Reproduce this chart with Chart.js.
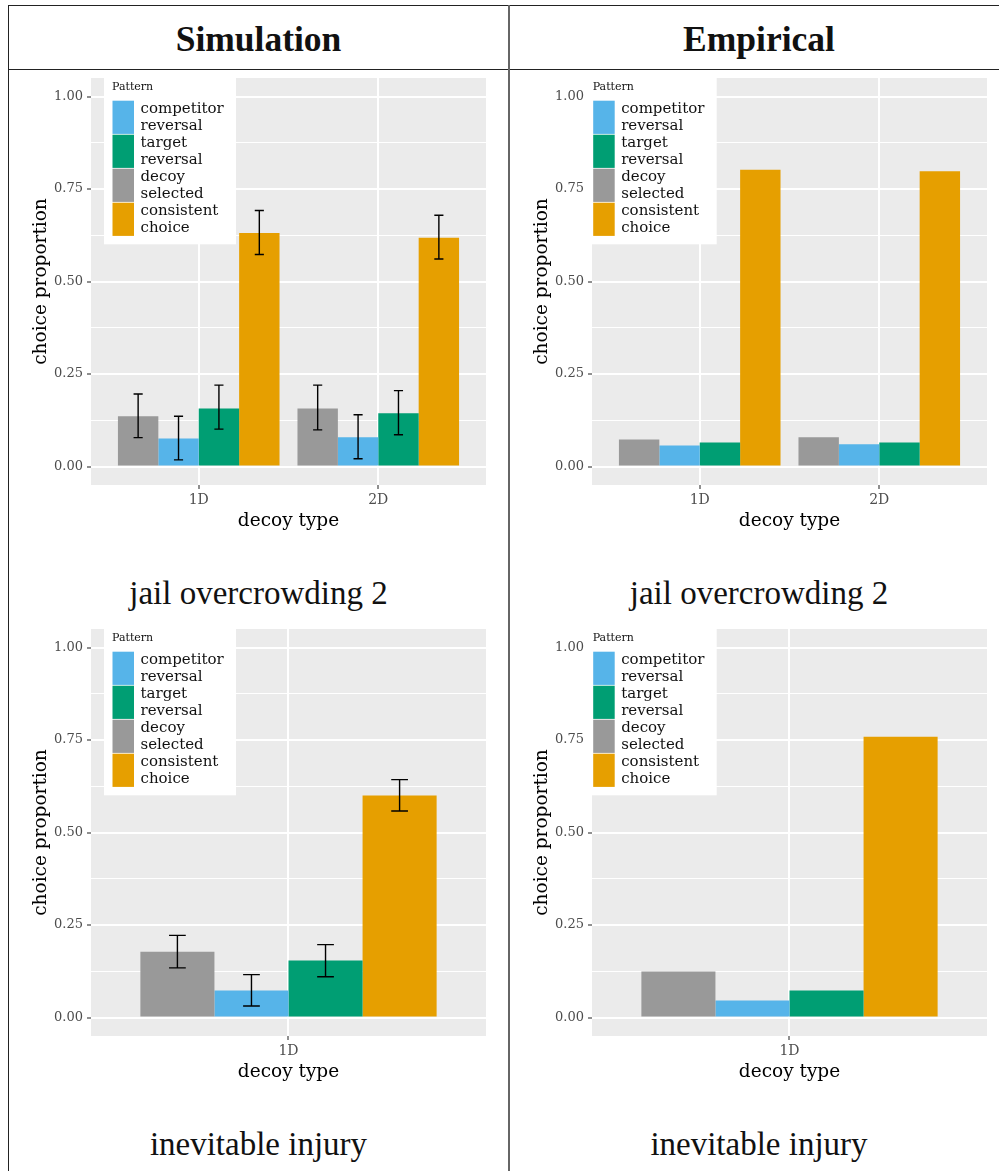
<!DOCTYPE html>
<html>
<head>
<meta charset="utf-8">
<script src="https://cdn.jsdelivr.net/npm/chart.js@4"></script>
<style>
  html, body { margin: 0; padding: 0; background: #fff; }
  body { position: relative; width: 999px; height: 1171px; overflow: hidden; }
  .rule { position: absolute; }
  .head { position: absolute; font-family: 'Liberation Serif', serif; font-weight: bold;
          font-size: 35.5px; line-height: 35.5px; text-align: center; color: #111; white-space: nowrap; }
  .cap { position: absolute; font-family: 'Liberation Serif', serif;
         font-size: 33px; line-height: 33px; text-align: center; color: #111; white-space: nowrap; }
  canvas { position: absolute; }
</style>
</head>
<body>
<script>
// ---- labels ----
const COLUMN_TITLES = ['Simulation', 'Empirical'];
const ROW_TITLES = ['jail overcrowding 2', 'inevitable injury'];
const X_TITLE = 'decoy type';
const Y_TITLE = 'choice proportion';
const LEGEND_TITLE = 'Pattern';

// ---- series (bar order within a group) ----
const SERIES = ['decoy selected', 'competitor reversal', 'target reversal', 'consistent choice'];
const SERIES_COLORS = ['#999999', '#56B4E9', '#009E73', '#E69F00'];
const LEGEND_ORDER = ['competitor reversal', 'target reversal', 'decoy selected', 'consistent choice'];

// ---- axis ticks ----
const Y_TICKS = [0, 0.25, 0.5, 0.75, 1];
const Y_MINOR = [0.125, 0.375, 0.625, 0.875];

// ---- categories ----
const JAIL_TYPES = ['1D', '2D'];
const INJURY_TYPES = ['1D'];

// ---- simulation: jail overcrowding 2 (mean, lower, upper) ----
const SIM_JAIL_DECOY = [0.136, 0.157];
const SIM_JAIL_DECOY_LO = [0.078, 0.099];
const SIM_JAIL_DECOY_HI = [0.196, 0.220];
const SIM_JAIL_COMP = [0.076, 0.079];
const SIM_JAIL_COMP_LO = [0.018, 0.021];
const SIM_JAIL_COMP_HI = [0.136, 0.140];
const SIM_JAIL_TARGET = [0.157, 0.144];
const SIM_JAIL_TARGET_LO = [0.101, 0.086];
const SIM_JAIL_TARGET_HI = [0.220, 0.205];
const SIM_JAIL_CONS = [0.631, 0.618];
const SIM_JAIL_CONS_LO = [0.573, 0.561];
const SIM_JAIL_CONS_HI = [0.692, 0.679];

// ---- empirical: jail overcrowding 2 ----
const EMP_JAIL_DECOY = [0.073, 0.079];
const EMP_JAIL_COMP = [0.057, 0.060];
const EMP_JAIL_TARGET = [0.065, 0.065];
const EMP_JAIL_CONS = [0.802, 0.798];

// ---- simulation: inevitable injury ----
const SIM_INJ_DECOY = [0.178];
const SIM_INJ_DECOY_LO = [0.134];
const SIM_INJ_DECOY_HI = [0.222];
const SIM_INJ_COMP = [0.073];
const SIM_INJ_COMP_LO = [0.031];
const SIM_INJ_COMP_HI = [0.116];
const SIM_INJ_TARGET = [0.154];
const SIM_INJ_TARGET_LO = [0.110];
const SIM_INJ_TARGET_HI = [0.197];
const SIM_INJ_CONS = [0.600];
const SIM_INJ_CONS_LO = [0.558];
const SIM_INJ_CONS_HI = [0.643];

// ---- empirical: inevitable injury ----
const EMP_INJ_DECOY = [0.124];
const EMP_INJ_COMP = [0.046];
const EMP_INJ_TARGET = [0.073];
const EMP_INJ_CONS = [0.759];

Chart.defaults.font.family = "'DejaVu Serif', serif";

// table frame and text
function addDiv(cls, css, text) {
  const d = document.createElement('div');
  d.className = cls;
  Object.assign(d.style, css);
  if (text) d.textContent = text;
  document.body.appendChild(d);
}
addDiv('rule', {left: '8px', top: '4.5px', width: '991px', height: '1.3px', background: '#222'});
addDiv('rule', {left: '8px', top: '68.8px', width: '991px', height: '1.5px', background: '#222'});
addDiv('rule', {left: '7.6px', top: '4.5px', width: '1.3px', height: '1170px', background: '#222'});
addDiv('rule', {left: '508.2px', top: '4.5px', width: '1.7px', height: '1170px', background: '#666'});
addDiv('head', {left: '8px', width: '501px', top: '21.5px'}, COLUMN_TITLES[0]);
addDiv('head', {left: '509px', width: '500px', top: '21.5px'}, COLUMN_TITLES[1]);
addDiv('cap', {left: '8px', width: '501px', top: '576.5px'}, ROW_TITLES[0]);
addDiv('cap', {left: '509px', width: '500px', top: '576.5px'}, ROW_TITLES[0]);
addDiv('cap', {left: '8px', width: '501px', top: '1128px'}, ROW_TITLES[1]);
addDiv('cap', {left: '509px', width: '500px', top: '1128px'}, ROW_TITLES[1]);

// grey panel behind the plot area
const panelBg = {
  id: 'panelBg',
  beforeDraw(chart) {
    const {ctx, chartArea: a} = chart;
    ctx.save();
    ctx.fillStyle = '#EBEBEB';
    ctx.fillRect(a.left, a.top, a.right - a.left, a.bottom - a.top);
    ctx.restore();
  }
};

// whiskers for the simulated intervals
const errorBars = {
  id: 'errorBars',
  afterDatasetsDraw(chart) {
    const {ctx} = chart;
    const ys = chart.scales.y;
    chart.data.datasets.forEach((ds, di) => {
      if (!ds.errorLow) return;
      const meta = chart.getDatasetMeta(di);
      meta.data.forEach((bar, i) => {
        const yl = ys.getPixelForValue(ds.errorLow[i]);
        const yh = ys.getPixelForValue(ds.errorHigh[i]);
        const half = bar.width * 0.113;
        ctx.save();
        ctx.strokeStyle = '#000';
        ctx.lineWidth = 1.4;
        ctx.beginPath();
        ctx.moveTo(bar.x, yh); ctx.lineTo(bar.x, yl);
        ctx.moveTo(bar.x - half, yh); ctx.lineTo(bar.x + half, yh);
        ctx.moveTo(bar.x - half, yl); ctx.lineTo(bar.x + half, yl);
        ctx.stroke();
        ctx.restore();
      });
    });
  }
};

// legend box with two-line keys
const patternLegend = {
  id: 'patternLegend',
  afterDraw(chart, args, opts) {
    const {ctx, chartArea} = chart;
    const x = chartArea.left + opts.dx;
    const y = chartArea.top + opts.dy;
    ctx.save();
    ctx.fillStyle = '#fff';
    ctx.fillRect(x, y, 132, 167.6);
    ctx.fillStyle = '#111';
    ctx.textBaseline = 'middle';
    ctx.textAlign = 'left';
    ctx.font = "11px 'DejaVu Serif'";
    ctx.fillText(LEGEND_TITLE, x + 8, y + 10.5);
    LEGEND_ORDER.forEach((name, i) => {
      const ds = chart.data.datasets.find(d => d.label === name);
      const top = y + 24 + i * 34;
      ctx.fillStyle = ds.backgroundColor;
      ctx.fillRect(x + 8.5, top, 21.5, 33.2);
      ctx.fillStyle = '#111';
      ctx.font = "15px 'DejaVu Serif'";
      name.split(' ').forEach((w, j) => ctx.fillText(w, x + 36.5, top + 8.6 + j * 16.7));
    });
    ctx.restore();
  }
};

function drawPanel(left, top, cats, means, lows, highs, legendDx) {
  const cv = document.createElement('canvas');
  cv.width = 488; cv.height = 463;
  cv.style.left = left + 'px'; cv.style.top = top + 'px';
  document.body.appendChild(cv);

  const expand = 0.6;                           // discrete-axis expansion on each side
  const rulerUnits = cats.length > 1 ? 1 : 2 * expand;
  const datasets = SERIES.map((name, s) => ({
    label: name,
    data: cats.map((c, i) => ({x: i + 1, y: means[s][i]})),
    backgroundColor: SERIES_COLORS[s],
    borderWidth: 0,
    categoryPercentage: 0.9 / rulerUnits,
    barPercentage: 1,
    errorLow: lows ? lows[s] : null,
    errorHigh: highs ? highs[s] : null
  }));

  new Chart(cv, {
    type: 'bar',
    data: {datasets},
    plugins: [panelBg, errorBars, patternLegend],
    options: {
      responsive: false,
      animation: false,
      events: [],
      layout: {padding: {top: 6, right: 12, bottom: 0, left: 0}},
      plugins: {
        legend: {display: false},
        tooltip: {enabled: false},
        patternLegend: {dx: legendDx, dy: -1.3}
      },
      scales: {
        x: {
          type: 'linear',
          min: 1 - expand,
          max: cats.length + expand,
          offset: false,
          afterBuildTicks: s => { s.ticks = cats.map((c, i) => ({value: i + 1})); },
          afterFit: s => { s.height = 50; s.paddingLeft = 0; s.paddingRight = 0; },
          ticks: {
            callback: v => cats[v - 1],
            color: '#4D4D4D', font: {size: 14}, padding: 2.5,
            maxRotation: 0, autoSkip: false
          },
          grid: {color: '#fff', lineWidth: 2, tickColor: '#333', tickLength: 4, tickWidth: 1.1, offset: false},
          border: {display: false},
          title: {display: true, text: X_TITLE, color: '#000', font: {size: 18.5}, padding: {top: 0, bottom: 3}}
        },
        y: {
          min: -0.05,
          max: 1.05,
          afterBuildTicks: s => {
            s.ticks = Y_TICKS.concat(Y_MINOR).sort((a, b) => a - b).map(v => ({value: v}));
          },
          afterFit: s => { s.width = 81; s.paddingTop = 0; s.paddingBottom = 0; },
          ticks: {
            callback: v => Y_TICKS.includes(v) ? v.toFixed(2) : '',
            color: '#4D4D4D', font: {size: 13}, padding: 4, autoSkip: false
          },
          grid: {
            color: '#fff',
            lineWidth: c => Y_TICKS.includes(c.tick.value) ? 2 : 1,
            tickColor: c => Y_TICKS.includes(c.tick.value) ? '#333' : 'rgba(0,0,0,0)',
            tickLength: 4,
            tickWidth: 1.1
          },
          border: {display: false},
          title: {display: true, text: Y_TITLE, color: '#000', font: {size: 18.5}, padding: {top: 20.4, bottom: 0}}
        }
      }
    }
  });
}

drawPanel(10, 72, JAIL_TYPES,
  [SIM_JAIL_DECOY, SIM_JAIL_COMP, SIM_JAIL_TARGET, SIM_JAIL_CONS],
  [SIM_JAIL_DECOY_LO, SIM_JAIL_COMP_LO, SIM_JAIL_TARGET_LO, SIM_JAIL_CONS_LO],
  [SIM_JAIL_DECOY_HI, SIM_JAIL_COMP_HI, SIM_JAIL_TARGET_HI, SIM_JAIL_CONS_HI], 13);

drawPanel(511, 72, JAIL_TYPES,
  [EMP_JAIL_DECOY, EMP_JAIL_COMP, EMP_JAIL_TARGET, EMP_JAIL_CONS], null, null, -7.3);

drawPanel(10, 623, INJURY_TYPES,
  [SIM_INJ_DECOY, SIM_INJ_COMP, SIM_INJ_TARGET, SIM_INJ_CONS],
  [SIM_INJ_DECOY_LO, SIM_INJ_COMP_LO, SIM_INJ_TARGET_LO, SIM_INJ_CONS_LO],
  [SIM_INJ_DECOY_HI, SIM_INJ_COMP_HI, SIM_INJ_TARGET_HI, SIM_INJ_CONS_HI], 13);

drawPanel(511, 623, INJURY_TYPES,
  [EMP_INJ_DECOY, EMP_INJ_COMP, EMP_INJ_TARGET, EMP_INJ_CONS], null, null, -7.3);
</script>
</body>
</html>
